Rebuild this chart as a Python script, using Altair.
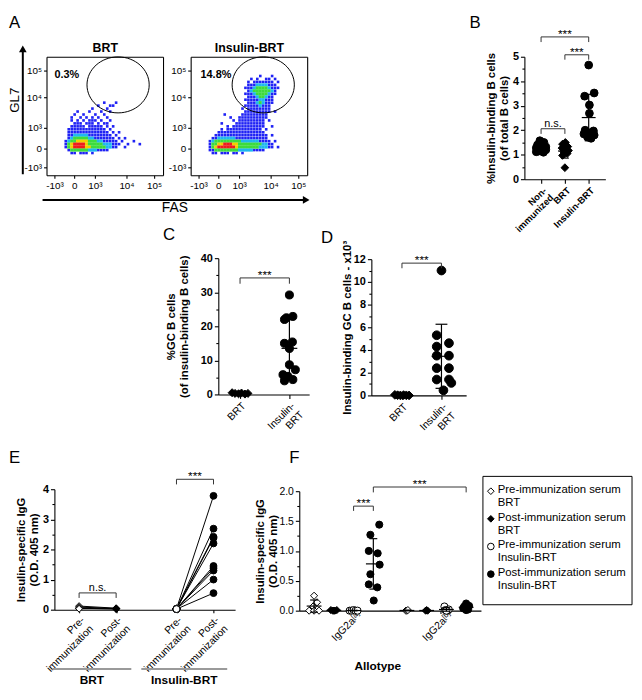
import json
import altair as alt
import pandas as pd

W, H = 634, 684
FONT = "Liberation Sans"

# ---------------- Panel A: flow cytometry (FAS vs GL7) ----------------
FLOW_TICK_LABELS = ["-10³", "0", "10³", "10⁴", "10⁵"]
FAS_TICKS = [8, 28, 49, 81, 109]
GL7_TICKS = [8, 27, 48, 79, 106]
FLOW_TITLES = ["BRT", "Insulin-BRT"]
GATE_FAS = [72.5, 73.5]
GATE_GL7 = [91.5, 91.5]
GATE_PCT = ["0.3%", "14.8%"]
PCT_FAS = [8, 10]
PCT_GL7 = [101, 101]
# density cells (3x3 display units): b blue, c cyan, g green, y yellow, r red
BRT_TOP_ROW = 15
BRT_GRID = [
    "...................b...b",
    ".................b...bb",
    "...............b....b",
    "..........b...b...b..b",
    ".........b..b...b..b",
    "........b..b.b.b.b..b",
    "........b.b.b.bbb.b..b",
    ".........bbb.bbb.b.bb",
    "........bbbbb.bbbbb.b.b",
    ".......bbbbbbbbbbbbb.b",
    ".......bbbbbbbbbbbbbb.b.b",
    ".......bbcccccbbbbbbbb.b",
    ".......bcgggggccbbbbbbb.b.b",
    "......bcggyyyygggccbbbbb.b...b",
    "......bgyrrrrygggggcccbbb..b...b",
    "......bgyrrrryygggggccbb..b",
    ".......bggggggcccbbbb",
    "........bb.bbb.b",
]
INS_TOP_ROW = 6
INS_GRID = [
    ".......................b...b",
    "....................b.b..bb.b",
    "...................b.bbbbbbb.b",
    "...................bbbccccbbb",
    "..................bbbcggggcbbb",
    "...................bcggggggcb",
    "..................bbbcggggcbb",
    "...................bbbcggcbb",
    "..................bbbbbccbbb",
    "...................bbbcgcbbb",
    "..................bbbbbcbbb",
    ".................b.bbbbbbbb",
    "..................bbbbbbbbb.b",
    "...........b.....bbbbbbbbb",
    ".............b..bbbbbbbbbb",
    "..............b.bbbbbbbbb.b",
    "..........b....bbbbbbbbbb",
    "............b.bbbbbbbbbbb..b",
    "..........b.bbbbbbbbbbbb.b",
    ".........bbbbbbbbbbbbbbbb",
    "........bbbbbbbbbbbbbbbbbb.b",
    ".......bbccccccbbbbbbbbbbb",
    "......bcgggggggggccccccbbbb.b",
    "......bggyyrrryyggggggggccbb",
    "......bgyrrrrrrygggggggcccbb.b",
    "......bbggggggggcccccbbbb",
    ".......bb.bbb.bb.b",
]
DENS_COLORS = {"b": "#1f22f5", "c": "#1fb8f0", "g": "#3ddc3d", "y": "#f2d000", "r": "#ee1c1c"}

# ---------------- Panel B ----------------
B_POS = [0, 1, 2]
B_LABELS = ["Non-\nimmunized", "BRT", "Insulin-BRT"]
B_NONIMM = [1.57, 1.5, 1.4, 1.32, 1.28, 1.25, 1.2, 1.15, 1.12, 1.1]
B_NONIMM_OFF = [-0.05, 0.12, -0.15, 0.2, -0.2, 0.02, 0.2, -0.1, -0.2, 0.1]
B_BRT = [1.5, 1.43, 1.33, 1.27, 1.2, 1.17, 1.12, 1.05, 0.97, 0.47]
B_BRT_OFF = [0.02, -0.1, 0.12, -0.12, 0.05, 0.15, -0.05, 0.1, -0.1, 0.0]
B_INS = [4.66, 3.52, 3.39, 3.03, 2.69, 2.0, 1.97, 1.9, 1.85, 1.8, 1.72, 1.67]
B_INS_OFF = [0.0, 0.23, -0.17, 0.03, 0.03, -0.15, 0.2, 0.0, -0.2, 0.23, -0.05, 0.1]

# ---------------- Panel C ----------------
C_POS = [0, 1]
C_LABELS = ["BRT", "Insulin-\nBRT"]
C_BRT = [0.5, 0.3, 0.2, 0.4, 0.1, 0.3]
C_BRT_OFF = [-0.16, -0.1, -0.03, 0.03, 0.1, 0.16]
C_INS = [29.2, 22.5, 22.9, 22.0, 15.0, 15.4, 13.5, 8.7, 7.25, 5.8, 5.3, 4.35, 4.0]
C_INS_OFF = [0.0, -0.06, 0.07, -0.1, -0.1, 0.06, 0.0, 0.0, 0.12, -0.13, -0.03, 0.07, -0.1]

# ---------------- Panel D ----------------
D_POS = [0, 1]
D_LABELS = ["BRT", "Insulin-\nBRT"]
D_BRT = [0.05, 0.02, 0.0, 0.03, 0.01, 0.0]
D_BRT_OFF = [-0.18, -0.11, -0.04, 0.04, 0.11, 0.18]
D_INS = [11.0, 5.3, 4.6, 4.3, 3.5, 3.5, 2.4, 2.4, 1.4, 1.4, 1.1, 0.45]
D_INS_OFF = [0.0, -0.12, 0.19, -0.12, -0.12, 0.19, -0.12, 0.19, -0.12, 0.19, 0.25, 0.05]

# ---------------- Panel E ----------------
E_POS = [0, 1, 2.63, 3.63]
E_LABELS = ["Pre-\nimmunization", "Post-\nimmunization", "Pre-\nimmunization", "Post-\nimmunization"]
E_GROUPS = ["BRT", "Insulin-BRT"]
E_BRT_PRE = [0.12, 0.09, 0.06, 0.05, 0.04, 0.03]
E_BRT_POST = [0.05, 0.03, 0.04, 0.02, 0.04, 0.03]
E_INS_PRE = [0.03, 0.02, 0.03, 0.02, 0.03, 0.02, 0.03, 0.02, 0.03, 0.02]
E_INS_POST = [3.78, 2.69, 2.42, 2.38, 2.2, 1.45, 1.38, 1.3, 1.0, 0.55]

# ---------------- Panel F ----------------
F_SLOTS = [0, 1, 2, 3, 4.7, 5.7, 6.7, 7.7]
F_TICKS = [1.8, 6.4]
F_ALLOTYPES = ["IgG2a", "IgG2a"]
F_SUPER = ["[a]", "[b]"]
F_KINDS = ["pre_brt", "post_brt", "pre_ins", "post_ins", "pre_brt", "post_brt", "pre_ins", "post_ins"]
F_VALUES = [
    [0.25, 0.14, 0.07, 0.0, 0.0, 0.0],
    [0.01, 0.0, 0.0, 0.01, 0.0],
    [0.0, 0.0, 0.01, 0.0, 0.0],
    [1.27, 1.44, 1.0, 0.96, 0.77, 0.61, 0.44, 0.39, 0.17],
    [0.0, 0.0, 0.01],
    [0.0, 0.01, 0.0],
    [0.07, 0.0, 0.02, 0.01, 0.0],
    [0.12, 0.08, 0.07, 0.04, 0.02, 0.01],
]
F_OFFSETS = [
    [0.0, 0.15, -0.05, -0.25, 0.0, 0.25],
    [-0.15, -0.05, 0.05, 0.15, 0.0],
    [-0.2, -0.1, 0.0, 0.1, 0.2],
    [-0.15, 0.3, -0.23, 0.22, 0.32, -0.15, -0.23, 0.2, 0.02],
    [-0.05, 0.0, 0.05],
    [-0.05, 0.0, 0.05],
    [-0.1, 0.07, 0.12, -0.05, 0.0],
    [0.0, 0.15, -0.1, -0.15, 0.1, 0.0],
]
LEGEND_LABELS = [
    "Pre-immunization serum\nBRT",
    "Post-immunization serum\nBRT",
    "Pre-immunization serum\nInsulin-BRT",
    "Post-immunization serum\nInsulin-BRT",
]
LEGEND_KINDS = ["pre_brt", "post_brt", "pre_ins", "post_ins"]

KIND_STYLE = {
    "pre_brt": ("diamond", "white"),
    "post_brt": ("diamond", "black"),
    "pre_ins": ("circle", "white"),
    "post_ins": ("circle", "black"),
}

# ---------------- helpers ----------------
def sc(domain, a, b):
    return alt.Scale(domain=list(domain), range=[a - 8, b - 8], nice=False, zero=False)


def dummy():
    return alt.Chart(pd.DataFrame({"d": [0]}))


def label_expr(vals, labels, multiline=False):
    e = f"{json.dumps(labels, ensure_ascii=False)}[indexof({json.dumps(vals)}, datum.value)]"
    if multiline:
        e = f"split({e}, '\\n')"
    return e


def axis(orient, pos, values, **kw):
    base = dict(grid=False, labelOverlap=False, labelFlush=False, labelBound=False,
                domainColor="black", tickColor="black", labelColor="black", titleColor="black",
                labelFont=FONT, titleFont=FONT, domainWidth=1.1, tickWidth=1.1, tickSize=4,
                labelPadding=2, titleFontSize=11.5, titleFontWeight="bold", labelFontSize=11,
                labelFontWeight="bold", title=None)
    if orient == "left":
        off = -(pos - 8)
    elif orient == "right":
        off = (pos - 8) - W
    elif orient == "bottom":
        off = (pos - 8) - H
    else:
        off = -(pos - 8)
    base.update(orient=orient, offset=off, values=list(values))
    base.update(kw)
    return alt.Axis(**base)


def qx(f, xs):
    return alt.X(f, type="quantitative", scale=xs, axis=None)


def qy(f, ys):
    return alt.Y(f, type="quantitative", scale=ys, axis=None)


def make_df(groups):
    rows = []
    for g, vals, offs, kind in groups:
        shape, fill = KIND_STYLE[kind]
        for v, o in zip(vals, offs):
            rows.append({"g": g, "x": g + o, "v": v, "shape": shape, "fill": fill})
    return pd.DataFrame(rows)


def pts(df, xs, ys, size, sw=1.0):
    return alt.Chart(df).mark_point(filled=True, stroke="black", strokeWidth=sw, opacity=1,
                                    fillOpacity=1, size=size).encode(
        x=qx("x", xs), y=qy("v", ys),
        shape=alt.Shape("shape:N", scale=None), fill=alt.Fill("fill:N", scale=None))


def errbars(df, xs, ys, mean_hw, cap_hw, sw=1.2):
    b = alt.Chart(df).transform_aggregate(
        m="mean(v)", s="stdev(v)", groupby=["g"]
    ).transform_calculate(
        lo="datum.m - datum.s", hi="datum.m + datum.s",
        ml=f"datum.g - {mean_hw}", mr=f"datum.g + {mean_hw}",
        cl=f"datum.g - {cap_hw}", cr=f"datum.g + {cap_hw}")
    r = dict(color="black", strokeWidth=sw)
    return [
        b.mark_rule(**r).encode(x=qx("g", xs), y=qy("lo", ys), y2="hi:Q"),
        b.mark_rule(**r).encode(x=qx("ml", xs), x2="mr:Q", y=qy("m", ys)),
        b.mark_rule(**r).encode(x=qx("cl", xs), x2="cr:Q", y=qy("hi", ys)),
        b.mark_rule(**r).encode(x=qx("cl", xs), x2="cr:Q", y=qy("lo", ys)),
    ]


def brackets(rows, xs, ys, dy=1, fs=12, color="#333333"):
    df = pd.DataFrame(rows, columns=["x1", "x2", "y", "yd", "t"])
    c = alt.Chart(df)
    r = dict(color=color, strokeWidth=1)
    return [
        c.mark_rule(**r).encode(x=qx("x1", xs), x2="x2:Q", y=qy("y", ys)),
        c.mark_rule(**r).encode(x=qx("x1", xs), y=qy("y", ys), y2="yd:Q"),
        c.mark_rule(**r).encode(x=qx("x2", xs), y=qy("y", ys), y2="yd:Q"),
        c.transform_calculate(xm="(datum.x1 + datum.x2) / 2").mark_text(
            font=FONT, fontSize=fs, baseline="alphabetic", dy=dy, color="black").encode(
            x=qx("xm", xs), y=qy("y", ys), text="t:N"),
    ]


def minor_ticks(ys, x_px, values):
    return dummy().mark_point(opacity=0).encode(
        y=alt.Y("d:Q", scale=ys, axis=axis("left", x_px, values, labels=False, domain=False, tickSize=2.5)))


def txt(s, x, y, **kw):
    style = dict(font=FONT, color="black")
    style.update(kw)
    return dummy().mark_text(text=s, **style).encode(x=alt.value(x - 8), y=alt.value(y - 8))


layers = []

# ---------------- Panel A ----------------
ELLIPSE = "M-1,0A1,0.9,0,1,0,1,0A1,0.9,0,1,0,-1,0Z"
flow_specs = [
    (BRT_GRID, BRT_TOP_ROW, 47, 165),
    (INS_GRID, INS_TOP_ROW, 193, 311),
]
for i, (grid, top_row, x0, x1) in enumerate(flow_specs):
    cells = []
    for r, row in enumerate(grid):
        for c, ch in enumerate(row):
            if ch in DENS_COLORS:
                cells.append({"fas": 1.5 + 3 * c, "gl7": 120 - (1.5 + 3 * (top_row + r)),
                              "col": DENS_COLORS[ch], "lvl": "bcgyr".index(ch)})
    cdf = pd.DataFrame(cells)
    xs = sc([0, 118], x0, x1)
    ys = sc([0, 120], 173, 53)
    xax = axis("bottom", 173, FAS_TICKS, labelExpr=label_expr(FAS_TICKS, FLOW_TICK_LABELS),
               labelFontSize=10, labelFontWeight="normal", tickSize=3)
    yax = axis("left", x0, GL7_TICKS, labelExpr=label_expr(GL7_TICKS, FLOW_TICK_LABELS),
               labelFontSize=10, labelFontWeight="normal", tickSize=3)
    layers.append(alt.Chart(cdf).transform_filter("datum.lvl == 0").mark_square(size=7, opacity=1).encode(
        x=alt.X("fas:Q", scale=xs, axis=xax), y=alt.Y("gl7:Q", scale=ys, axis=yax),
        color=alt.Color("col:N", scale=None)))
    layers.append(alt.Chart(cdf).transform_filter("datum.lvl > 0").mark_square(size=10, opacity=1).encode(
        x=qx("fas", xs), y=qy("gl7", ys), color=alt.Color("col:N", scale=None)))
    gate = pd.DataFrame({"fas": [GATE_FAS[i]], "gl7": [GATE_GL7[i]], "t": [GATE_PCT[i]],
                         "pf": [PCT_FAS[i]], "pg": [PCT_GL7[i]]})
    layers.append(alt.Chart(gate).mark_point(shape=ELLIPSE, size=3969, color="black", filled=False,
                                             strokeWidth=1, opacity=1).encode(
        x=alt.X("fas:Q", scale=xs, axis=axis("top", 53, [], labels=False, ticks=False,
                                             title=FLOW_TITLES[i], titleFontSize=12.5, titlePadding=2)),
        y=alt.Y("gl7:Q", scale=ys, axis=axis("right", x1, [], labels=False, ticks=False))))
    layers.append(alt.Chart(gate).mark_text(font=FONT, fontSize=11, fontWeight="bold", align="left",
                                            baseline="middle", color="black").encode(
        x=qx("pf", xs), y=qy("pg", ys), text="t:N"))

# axis arrows of A
layers.append(dummy().mark_rule(color="black", strokeWidth=2).encode(
    x=alt.value(23 - 8), y=alt.value(172 - 8), y2=alt.value(47 - 8)))
layers.append(dummy().mark_point(shape="triangle-up", size=60, filled=True, color="black", opacity=1).encode(
    x=alt.value(23 - 8), y=alt.value(45 - 8)))
layers.append(dummy().mark_rule(color="black", strokeWidth=2).encode(
    x=alt.value(43 - 8), x2=alt.value(308 - 8), y=alt.value(198 - 8)))
layers.append(dummy().mark_point(shape="triangle-right", size=60, filled=True, color="black", opacity=1).encode(
    x=alt.value(310 - 8), y=alt.value(198 - 8)))
layers.append(txt("GL7", 15.5, 97, fontSize=13.5, angle=270, align="center", baseline="middle"))
layers.append(txt("FAS", 177, 206, fontSize=14, align="center", baseline="middle"))

# ---------------- Panel B ----------------
xsB = sc([-0.7, 2.7], 531, 613)
ysB = sc([0, 5], 177, 53)
dfB = make_df([(B_POS[0], B_NONIMM, B_NONIMM_OFF, "post_ins"),
               (B_POS[1], B_BRT, B_BRT_OFF, "post_brt"),
               (B_POS[2], B_INS, B_INS_OFF, "post_ins")])
layers.append(dummy().mark_point(opacity=0).encode(
    x=alt.X("d:Q", scale=xsB, axis=axis("bottom", 177, B_POS, labelExpr=label_expr(B_POS, B_LABELS, True),
                                        labelAngle=-45, labelAlign="right", labelBaseline="top",
                                        labelFontSize=9.5, labelLineHeight=10)),
    y=alt.Y("d:Q", scale=ysB, axis=axis("left", 531, [0, 1, 2, 3, 4, 5], format="d",
                                        title=["%Insulin-binding B cells", "(of total B cells)"],
                                        titlePadding=3))))
layers.append(minor_ticks(ysB, 531, [0.5, 1.5, 2.5, 3.5, 4.5]))
layers.append(pts(dfB, xsB, ysB, 62))
layers += errbars(dfB, xsB, ysB, 7 / 24.1, 4 / 24.1)
layers += brackets([[0, 2, 5.81, 5.60, "***"], [1, 2, 5.08, 4.88, "***"]], xsB, ysB, dy=1)
layers += brackets([[0, 1, 2.06, 1.85, "n.s."]], xsB, ysB, dy=-2, fs=11)

# ---------------- Panel C ----------------
xsC = sc([-0.44, 1.4], 221, 313)
ysC = sc([0, 40], 395, 257)
dfC = make_df([(C_POS[0], C_BRT, C_BRT_OFF, "post_brt"),
               (C_POS[1], C_INS, C_INS_OFF, "post_ins")])
layers.append(dummy().mark_point(opacity=0).encode(
    x=alt.X("d:Q", scale=xsC, axis=axis("bottom", 395, C_POS, labelExpr=label_expr(C_POS, C_LABELS, True),
                                        labelAngle=-45, labelAlign="right", labelBaseline="top",
                                        labelFontSize=10.5, labelFontWeight="normal")),
    y=alt.Y("d:Q", scale=ysC, axis=axis("left", 221, [0, 10, 20, 30, 40], format="d",
                                        title=["%GC B cells", "(of insulin-binding B cells)"],
                                        titlePadding=11))))
layers.append(minor_ticks(ysC, 221, [5, 15, 25, 35]))
layers.append(pts(dfC, xsC, ysC, 66))
layers += errbars(dfC, xsC, ysC, 8 / 50, 4 / 50)
layers += brackets([[0, 1, 34.2, 32.5, "***"]], xsC, ysC, dy=1)

# ---------------- Panel D ----------------
xsD = sc([-0.775, 1.625], 376, 472)
ysD = sc([0, 12], 396, 258)
dfD = make_df([(D_POS[0], D_BRT, D_BRT_OFF, "post_brt"),
               (D_POS[1], D_INS, D_INS_OFF, "post_ins")])
layers.append(dummy().mark_point(opacity=0).encode(
    x=alt.X("d:Q", scale=xsD, axis=axis("bottom", 396, D_POS, labelExpr=label_expr(D_POS, D_LABELS, True),
                                        labelAngle=-45, labelAlign="right", labelBaseline="top",
                                        labelFontSize=10.5, labelFontWeight="normal")),
    y=alt.Y("d:Q", scale=ysD, axis=axis("left", 376, [0, 2, 4, 6, 8, 10, 12], format="d",
                                        title="Insulin-binding GC B cells - x10³", titlePadding=1))))
layers.append(minor_ticks(ysD, 376, [1, 3, 5, 7, 9, 11]))
layers.append(pts(dfD, xsD, ysD, 78))
layers += errbars(dfD, xsD, ysD, 10 / 40, 6 / 40)
layers += brackets([[0, 1, 11.65, 11.2, "***"]], xsD, ysD, dy=1)

# ---------------- Panel E ----------------
xsE = sc([-0.667, 4.213], 55, 238)
ysE = sc([0, 4], 613, 491)
erows = []
pid = 0
for pre, post, kpre, kpost, xa, xb in [
    (E_BRT_PRE, E_BRT_POST, "pre_brt", "post_brt", E_POS[0], E_POS[1]),
    (E_INS_PRE, E_INS_POST, "pre_ins", "post_ins", E_POS[2], E_POS[3]),
]:
    for a, b in zip(pre, post):
        for xv, v, k in [(xa, a, kpre), (xb, b, kpost)]:
            shape, fill = KIND_STYLE[k]
            erows.append({"pair": pid, "x": xv, "v": v, "shape": shape, "fill": fill})
        pid += 1
dfE = pd.DataFrame(erows)
layers.append(dummy().mark_point(opacity=0).encode(
    x=alt.X("d:Q", scale=xsE, axis=axis("bottom", 613, E_POS, labelExpr=label_expr(E_POS, E_LABELS, True),
                                        labelAngle=-45, labelAlign="right", labelBaseline="top",
                                        labelFontSize=10.5, labelFontWeight="normal", tickSize=3)),
    y=alt.Y("d:Q", scale=ysE, axis=axis("left", 55, [0, 1, 2, 3, 4], format="d",
                                        title=["Insulin-specific IgG", "(O.D. 405 nm)"], titlePadding=3))))
layers.append(minor_ticks(ysE, 55, [0.5, 1.5, 2.5, 3.5]))
layers.append(alt.Chart(dfE).mark_line(color="black", strokeWidth=1).encode(
    x=qx("x", xsE), y=qy("v", ysE), detail="pair:N", order="x:Q"))
layers.append(pts(dfE, xsE, ysE, 48))
layers += brackets([[E_POS[0], E_POS[1], 0.557, 0.39, "n.s."]], xsE, ysE, dy=-2, fs=11)
layers += brackets([[E_POS[2], E_POS[3], 4.33, 4.16, "***"]], xsE, ysE, dy=1)
grp = pd.DataFrame({"a": [-0.72, 1.68], "b": [1.41, 4.0], "t": E_GROUPS})
layers.append(alt.Chart(grp).mark_rule(color="#9a9a9a", strokeWidth=2).encode(
    x=qx("a", xsE), x2="b:Q", y=alt.value(673 - 8)))
layers.append(alt.Chart(grp).transform_calculate(m="(datum.a + datum.b) / 2").mark_text(
    font=FONT, fontSize=12, fontWeight="bold", color="black", baseline="middle").encode(
    x=qx("m", xsE), y=alt.value(684 - 8), text="t:N"))

# ---------------- Panel F ----------------
xsF = sc([-0.75, 8.45], 303, 487)
ysF = sc([0, 2], 614, 493)
dfF = make_df([(s, v, o, k) for s, v, o, k in zip(F_SLOTS, F_VALUES, F_OFFSETS, F_KINDS)])
layers.append(dummy().mark_point(opacity=0).encode(
    x=alt.X("d:Q", scale=xsF, axis=axis("bottom", 614, F_TICKS, labelExpr=label_expr(F_TICKS, F_ALLOTYPES),
                                        labelAngle=-45, labelAlign="right", labelBaseline="top",
                                        labelFontSize=10.5, labelFontWeight="normal", tickSize=3,
                                        title="Allotype", titleFontSize=12, titleX=382 - 8, titleY=56,
                                        titleBaseline="middle")),
    y=alt.Y("d:Q", scale=ysF, axis=axis("left", 303, [0, 0.5, 1, 1.5, 2], format=".1f",
                                        labelFontWeight="normal", labelFontSize=10.5,
                                        title=["Insulin-specific IgG", "(O.D. 405 nm)"], titlePadding=0))))
layers.append(minor_ticks(ysF, 303, [0.25, 0.75, 1.25, 1.75]))
sup = pd.DataFrame({"x": F_TICKS, "t": F_SUPER})
layers.append(alt.Chart(sup).mark_text(font=FONT, fontSize=7.5, angle=315, align="left", baseline="top",
                                       color="black").encode(
    x=qx("x", xsF), y=alt.value(614 - 8 + 5), text="t:N"))
layers.append(pts(dfF, xsF, ysF, 52))
layers += errbars(dfF, xsF, ysF, 7.5 / 20, 4 / 20)
layers += brackets([[F_SLOTS[2], F_SLOTS[3], 1.75, 1.67, "***"],
                    [F_SLOTS[3], F_SLOTS[7], 2.07, 1.98, "***"]], xsF, ysF, dy=1)

# legend
leg = pd.DataFrame({"lab": LEGEND_LABELS,
                    "shape": [KIND_STYLE[k][0] for k in LEGEND_KINDS],
                    "fill": [KIND_STYLE[k][1] for k in LEGEND_KINDS]})
ly = alt.Scale(type="point", domain=LEGEND_LABELS, range=[493 - 8, 577 - 8], padding=0)
layers.append(dummy().mark_rect(fill="white", stroke="black", strokeWidth=1).encode(
    x=alt.value(489 - 8), x2=alt.value(640 - 8), y=alt.value(478 - 8), y2=alt.value(608 - 8)))
layers.append(alt.Chart(leg).mark_point(filled=True, stroke="black", strokeWidth=1, opacity=1, size=45).encode(
    x=alt.value(497 - 8), y=alt.Y("lab:N", scale=ly, axis=None),
    shape=alt.Shape("shape:N", scale=None), fill=alt.Fill("fill:N", scale=None)))
layers.append(alt.Chart(leg).mark_text(font=FONT, fontSize=11.5, align="left", baseline="top", dy=-7,
                                       lineBreak="\n", lineHeight=13, color="black").encode(
    x=alt.value(504 - 8), y=alt.Y("lab:N", scale=ly, axis=None), text="lab:N"))

# panel letters
for letter, x, y, al in [("A", 9, 19, "left"), ("B", 481, 19, "center"), ("C", 171, 234, "center"),
                         ("D", 331, 237, "center"), ("E", 9, 459, "left"), ("F", 298, 459, "center")]:
    layers.append(txt(letter, x, y, fontSize=17, align=al, baseline="middle"))

chart = alt.layer(*layers).resolve_scale(
    x="independent", y="independent"
).properties(
    width=W, height=H, padding=0, autosize=alt.AutoSizeParams(type="none")
).configure_view(strokeWidth=0)

chart.save("out.html", embed_options={"renderer": "svg", "actions": False})
